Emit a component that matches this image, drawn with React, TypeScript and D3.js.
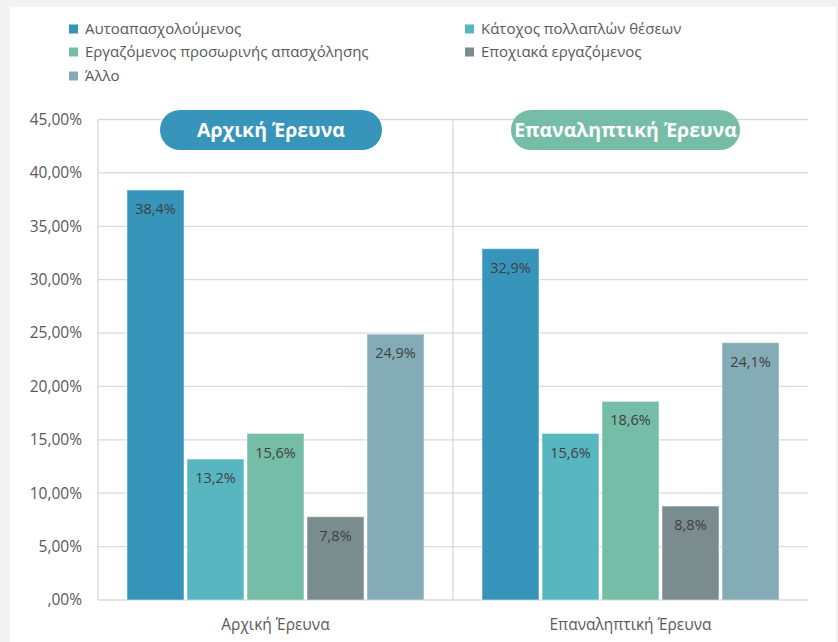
import React from "react";
import * as d3 from "d3";

const categories = ["Αρχική Έρευνα", "Επαναληπτική Έρευνα"];
const seriesNames = [
  "Αυτοαπασχολούμενος",
  "Κάτοχος πολλαπλών θέσεων",
  "Εργαζόμενος προσωρινής απασχόλησης",
  "Εποχιακά εργαζόμενος",
  "Άλλο",
];
const initialValues = [38.4, 13.2, 15.6, 7.8, 24.9];
const repeatValues = [32.9, 15.6, 18.6, 8.8, 24.1];
const seriesColors = ["#3794BA", "#58B6C0", "#75BDA7", "#7A8C8E", "#84ACB6"];
const yTicks = [0, 5, 10, 15, 20, 25, 30, 35, 40, 45];
const badgeColors = ["#3794BA", "#75BDA7"];

const W = 838;
const H = 642;
const FONT = "'Open Sans', 'Noto Sans', sans-serif";

const fmtTick = (v: number) => (v === 0 ? ",00%" : v.toFixed(2).replace(".", ",") + "%");
const fmtVal = (v: number) => v.toFixed(1).replace(".", ",") + "%";

export default function App() {
  const left = 98, right = 808, top = 119.5, bottom = 600;
  const y = d3.scaleLinear().domain([0, 45]).range([bottom, top]);
  const x0 = d3.scaleBand<string>().domain(categories).range([left, left + 2 * 355]).padding(0);
  const gap = 29;
  const x1 = d3
    .scaleBand<string>()
    .domain(seriesNames)
    .range([gap, x0.bandwidth() - gap])
    .paddingInner(0.05)
    .paddingOuter(0);
  const data = [initialValues, repeatValues];

  const legendPos = [
    [69, 29], [465, 29],
    [69, 52], [465, 52],
    [69, 76],
  ];

  const badges = [
    { x: 160, w: 222, text: categories[0] },
    { x: 511, w: 229, text: categories[1] },
  ];

  return (
    <svg width={W} height={H} style={{ position: "absolute", left: 0, top: 0 }} fontFamily={FONT}>
      <rect x={0} y={0} width={W} height={H} fill="#F2F2F2" />
      <rect x={10} y={7} width={826} height={H - 7} fill="#FFFFFF" />

      {/* legend */}
      {seriesNames.map((s, i) => (
        <g key={s} transform={`translate(${legendPos[i][0]},${legendPos[i][1]})`}>
          <rect x={0} y={-4.5} width={9} height={9} fill={seriesColors[i]} />
          <text x={16} y={0} dy="0.35em" fontSize={15} fill="#595959">{s}</text>
        </g>
      ))}

      {/* gridlines */}
      {yTicks.map((t) => (
        <line key={t} x1={left} x2={right} y1={y(t)} y2={y(t)} stroke="#D9D9D9" strokeWidth={1.3} />
      ))}
      <line x1={left} x2={left} y1={top} y2={bottom} stroke="#D9D9D9" strokeWidth={1.3} />
      <line x1={left + 355} x2={left + 355} y1={top} y2={bottom} stroke="#D9D9D9" strokeWidth={1.3} />

      {/* y tick labels */}
      {yTicks.map((t) => (
        <text key={t} x={82} y={y(t)} dy="0.35em" textAnchor="end" fontSize={15.5} fill="#595959">
          {fmtTick(t)}
        </text>
      ))}

      {/* bars */}
      {categories.map((c, ci) => (
        <g key={c} transform={`translate(${x0(c)},0)`}>
          {seriesNames.map((s, si) => {
            const v = data[ci][si];
            const bx = x1(s)!;
            const bw = x1.bandwidth();
            return (
              <g key={s}>
                <rect x={bx} y={y(v)} width={bw} height={bottom - y(v)} fill={seriesColors[si]} stroke="#FFFFFF" strokeOpacity={0.5} strokeWidth={1} />
                <text x={bx + bw / 2} y={y(v) + 19} dy="0.35em" textAnchor="middle" fontSize={14.5} fill="#404040">
                  {fmtVal(v)}
                </text>
              </g>
            );
          })}
          <text x={x0.bandwidth() / 2} y={625} dy="0.35em" textAnchor="middle" fontSize={15.5} fill="#595959">
            {c}
          </text>
        </g>
      ))}

      {/* badges */}
      {badges.map((b, i) => (
        <g key={i}>
          <rect x={b.x} y={110} width={b.w} height={40} rx={20} ry={20} fill={badgeColors[i]} />
          <text x={b.x + b.w / 2} y={130} dy="0.35em" textAnchor="middle" fontSize={19.5} fontWeight="bold" fill="#FFFFFF">
            {b.text}
          </text>
        </g>
      ))}
    </svg>
  );
}
